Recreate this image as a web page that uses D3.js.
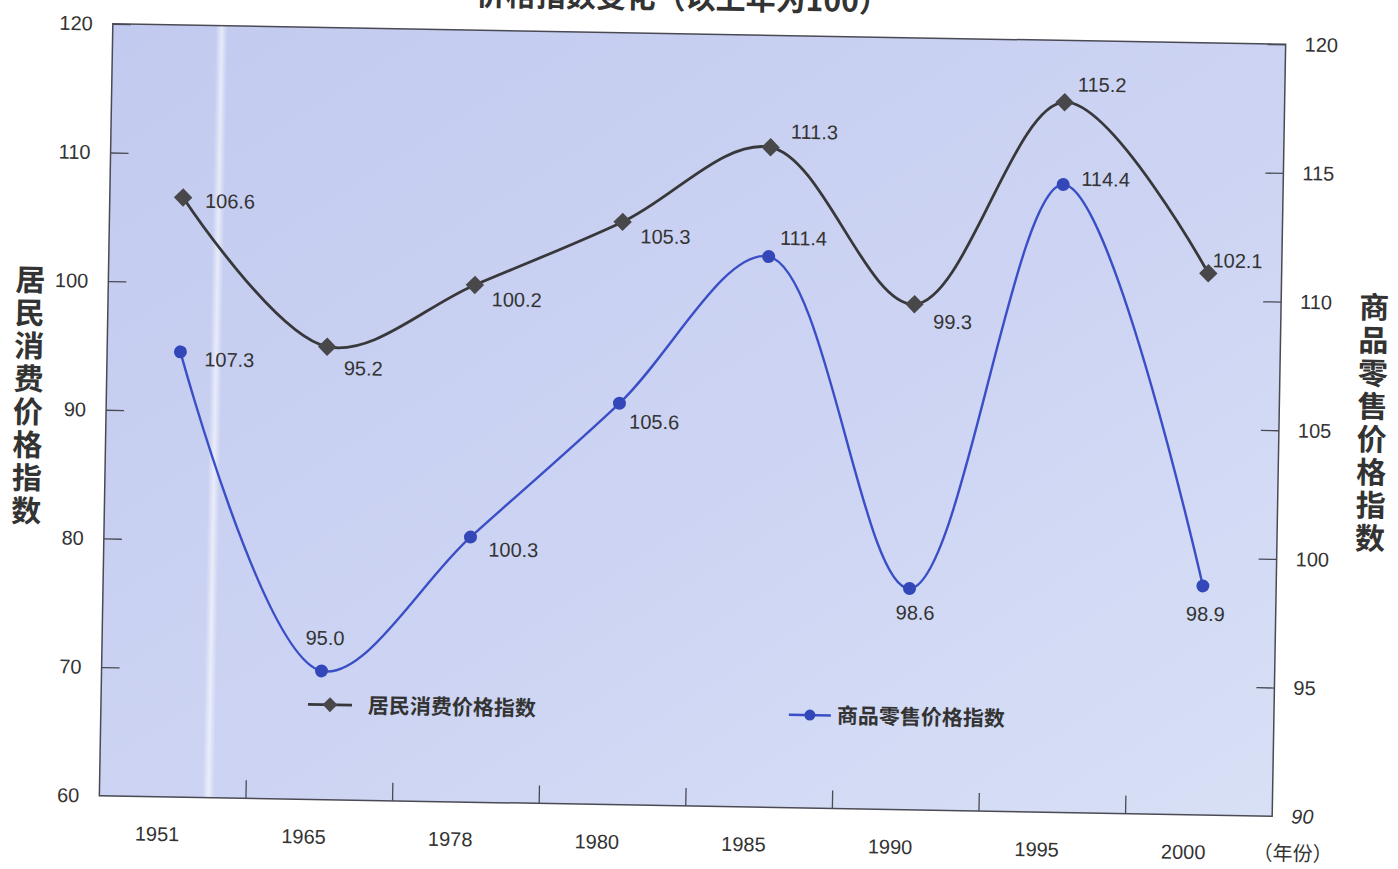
<!DOCTYPE html>
<html>
<head>
<meta charset="utf-8">
<script src="https://cdn.jsdelivr.net/npm/d3@7"></script>
<style>
  html, body { margin: 0; padding: 0; background: #ffffff; }
  svg { display: block; }
</style>
</head>
<body>
<svg id="chart" width="1398" height="869"></svg>
<script>
// Years shown along the bottom axis
const years = ["1951", "1965", "1978", "1980", "1985", "1990", "1995", "2000"];
// 居民消费价格指数 (left axis)
const cpiValues = [106.6, 95.2, 100.2, 105.3, 111.3, 99.3, 115.2, 102.1];
// 商品零售价格指数 (right axis)
const rpiValues = [107.3, 95.0, 100.3, 105.6, 111.4, 98.6, 114.4, 98.9];
// Axis ticks
const leftTicks = [60, 70, 80, 90, 100, 110, 120];
const rightTicks = [90, 95, 100, 105, 110, 115, 120];

const titleText = "价格指数变化（以上年为100）";
const leftTitle = "居民消费价格指数";
const rightTitle = "商品零售价格指数";
const unitText = "（年份）";

const numFont = "'Liberation Sans', Arial, sans-serif";
const cjkFont = "'Noto Sans CJK SC', 'Noto Sans', sans-serif";

const svg = d3.select("#chart");
const plot = { left: 106, right: 1279, top: 34, bottom: 806 };

// the printed page sits slightly tilted
const g = svg.append("g").attr("transform", "rotate(1, 692, 420)");

const defs = svg.append("defs");
const grad = defs.append("linearGradient").attr("id", "bg")
  .attr("x1", "0%").attr("y1", "0%").attr("x2", "100%").attr("y2", "100%");
grad.append("stop").attr("offset", "0%").attr("stop-color", "#c2caef");
grad.append("stop").attr("offset", "55%").attr("stop-color", "#cdd4f3");
grad.append("stop").attr("offset", "100%").attr("stop-color", "#d8e0f6");
const streak = defs.append("linearGradient").attr("id", "streak")
  .attr("x1", "0%").attr("x2", "100%").attr("y1", "0%").attr("y2", "0%");
streak.append("stop").attr("offset", "0%").attr("stop-color", "#ffffff").attr("stop-opacity", 0);
streak.append("stop").attr("offset", "50%").attr("stop-color", "#ffffff").attr("stop-opacity", 0.6);
streak.append("stop").attr("offset", "100%").attr("stop-color", "#ffffff").attr("stop-opacity", 0);

// scales
const x = d3.scaleBand().domain(years).range([plot.left, plot.right]).padding(0);
const yL = d3.scaleLinear().domain([60, 120]).range([plot.bottom, plot.top]);
const yR = d3.scaleLinear().domain([90, 120]).range([plot.bottom, plot.top]);
const cx = d => x(d) + x.bandwidth() / 2;

// title (its upper part runs off the page)
g.append("text")
  .attr("x", 675).attr("y", 9)
  .attr("text-anchor", "middle")
  .attr("font-family", cjkFont).attr("font-weight", "bold")
  .attr("font-size", 30).attr("fill", "#333")
  .text(titleText);

// plot background
g.append("rect")
  .attr("x", plot.left).attr("y", plot.top)
  .attr("width", plot.right - plot.left).attr("height", plot.bottom - plot.top)
  .attr("fill", "url(#bg)");
g.append("rect")
  .attr("x", 209).attr("y", plot.top)
  .attr("width", 12).attr("height", plot.bottom - plot.top)
  .attr("fill", "url(#streak)");

// frame
const frameColor = "#4a4a55";
g.append("path")
  .attr("d", `M${plot.left},${plot.bottom}V${plot.top}H${plot.right}V${plot.bottom}Z`)
  .attr("fill", "none").attr("stroke", frameColor).attr("stroke-width", 1.5);

// left axis
const axL = g.append("g").attr("transform", `translate(${plot.left},0)`)
  .call(d3.axisLeft(yL).tickValues(leftTicks).tickSizeInner(-18).tickSizeOuter(0).tickPadding(20));
axL.select(".domain").remove();
axL.selectAll("line").attr("stroke", frameColor).attr("stroke-width", 1.3);
axL.selectAll("line").filter(d => d === 60).remove();
axL.selectAll("text").attr("font-family", numFont).attr("font-size", 20).attr("fill", "#333");

// right axis
const axR = g.append("g").attr("transform", `translate(${plot.right},0)`)
  .call(d3.axisRight(yR).tickValues(rightTicks).tickSizeInner(-18).tickSizeOuter(0).tickPadding(19));
axR.select(".domain").remove();
axR.selectAll("line").attr("stroke", frameColor).attr("stroke-width", 1.3);
axR.selectAll("line").filter(d => d === 90).remove();
axR.selectAll("text").attr("font-family", numFont).attr("font-size", 20).attr("fill", "#333")
  .attr("font-style", d => d === 90 ? "italic" : null);

// bottom axis: labels under each year, ticks on the year boundaries
const axB = g.append("g").attr("transform", `translate(0,${plot.bottom})`)
  .call(d3.axisBottom(x).tickSize(0).tickPadding(30));
axB.select(".domain").remove();
axB.selectAll("text").attr("font-family", numFont).attr("font-size", 20).attr("fill", "#333")
  .attr("dx", -15);
g.append("g").selectAll("line").data(years.slice(1)).join("line")
  .attr("x1", d => x(d)).attr("x2", d => x(d))
  .attr("y1", plot.bottom).attr("y2", plot.bottom - 18)
  .attr("stroke", frameColor).attr("stroke-width", 1.3);

g.append("text")
  .attr("x", 1300).attr("y", 850)
  .attr("text-anchor", "middle")
  .attr("font-family", cjkFont).attr("font-size", 20).attr("fill", "#333")
  .text(unitText);

// vertical axis titles, set top-to-bottom
function verticalTitle(text, xPos, yCenter) {
  g.append("text")
    .attr("x", xPos).attr("y", yCenter)
    .attr("text-anchor", "middle")
    .attr("writing-mode", "vertical-rl")
    .style("text-orientation", "upright")
    .attr("letter-spacing", 3)
    .attr("font-family", cjkFont).attr("font-weight", "bold")
    .attr("font-size", 30).attr("fill", "#333")
    .text(text);
}
verticalTitle(leftTitle, 28, 408);
verticalTitle(rightTitle, 1372, 412);

// series
const cpi = years.map((yr, i) => ({ year: yr, value: cpiValues[i] }));
const rpi = years.map((yr, i) => ({ year: yr, value: rpiValues[i] }));

const cpiColor = "#38383b", cpiMark = "#48484b";
const rpiColor = "#3a4fc6", rpiMark = "#3347b8";

const lineL = d3.line().x(d => cx(d.year)).y(d => yL(d.value)).curve(d3.curveCatmullRom.alpha(0.5));
const lineR = d3.line().x(d => cx(d.year)).y(d => yR(d.value)).curve(d3.curveCatmullRom.alpha(0.5));

g.append("path").datum(rpi).attr("d", lineR)
  .attr("fill", "none").attr("stroke", rpiColor).attr("stroke-width", 2.4);
g.append("path").datum(cpi).attr("d", lineL)
  .attr("fill", "none").attr("stroke", cpiColor).attr("stroke-width", 2.8);

const diamond = d3.symbol().type(d3.symbolSquare).size(170);
g.append("g").selectAll("path").data(cpi).join("path")
  .attr("d", diamond)
  .attr("transform", d => `translate(${cx(d.year)},${yL(d.value)}) rotate(45)`)
  .attr("fill", cpiMark);
g.append("g").selectAll("circle").data(rpi).join("circle")
  .attr("cx", d => cx(d.year)).attr("cy", d => yR(d.value)).attr("r", 6.5)
  .attr("fill", rpiMark);

// value labels: [dx, dy to text centre, anchor]
const cpiLabelPos = [[22, 3, "start"], [17, 21, "start"], [17, 14, "start"], [18, 14, "start"],
                     [20, -16, "start"], [19, 17, "start"], [13, -18, "start"], [4, -13, "start"]];
const rpiLabelPos = [[24, 7, "start"], [3, -33, "middle"], [18, 12, "start"], [10, 18, "start"],
                     [11, -19, "start"], [6, 24, "middle"], [18, -6, "start"], [3, 28, "middle"]];

function labels(data, scale, pos) {
  g.append("g").selectAll("text").data(data).join("text")
    .attr("x", (d, i) => cx(d.year) + pos[i][0])
    .attr("y", (d, i) => scale(d.value) + pos[i][1])
    .attr("dy", "0.35em")
    .attr("text-anchor", (d, i) => pos[i][2])
    .attr("font-family", numFont).attr("font-size", 20).attr("fill", "#333")
    .text(d => d.value.toFixed(1));
}
labels(cpi, yL, cpiLabelPos);
labels(rpi, yR, rpiLabelPos);

// legend
const legend = g.append("g");
const lgY = 711;
legend.append("line").attr("x1", 313).attr("x2", 357).attr("y1", lgY).attr("y2", lgY)
  .attr("stroke", cpiColor).attr("stroke-width", 2.8);
legend.append("path").attr("d", d3.symbol().type(d3.symbolSquare).size(110))
  .attr("transform", `translate(335,${lgY}) rotate(45)`).attr("fill", cpiMark);
legend.append("text").attr("x", 373).attr("y", lgY).attr("dy", "0.36em")
  .attr("font-family", cjkFont).attr("font-weight", "bold").attr("font-size", 21).attr("fill", "#333")
  .text(leftTitle);
legend.append("line").attr("x1", 794).attr("x2", 836).attr("y1", lgY + 2).attr("y2", lgY + 2)
  .attr("stroke", rpiColor).attr("stroke-width", 2.4);
legend.append("circle").attr("cx", 815).attr("cy", lgY + 2).attr("r", 5.5).attr("fill", rpiMark);
legend.append("text").attr("x", 842).attr("y", lgY + 2).attr("dy", "0.36em")
  .attr("font-family", cjkFont).attr("font-weight", "bold").attr("font-size", 21).attr("fill", "#333")
  .text(rightTitle);
</script>
</body>
</html>
